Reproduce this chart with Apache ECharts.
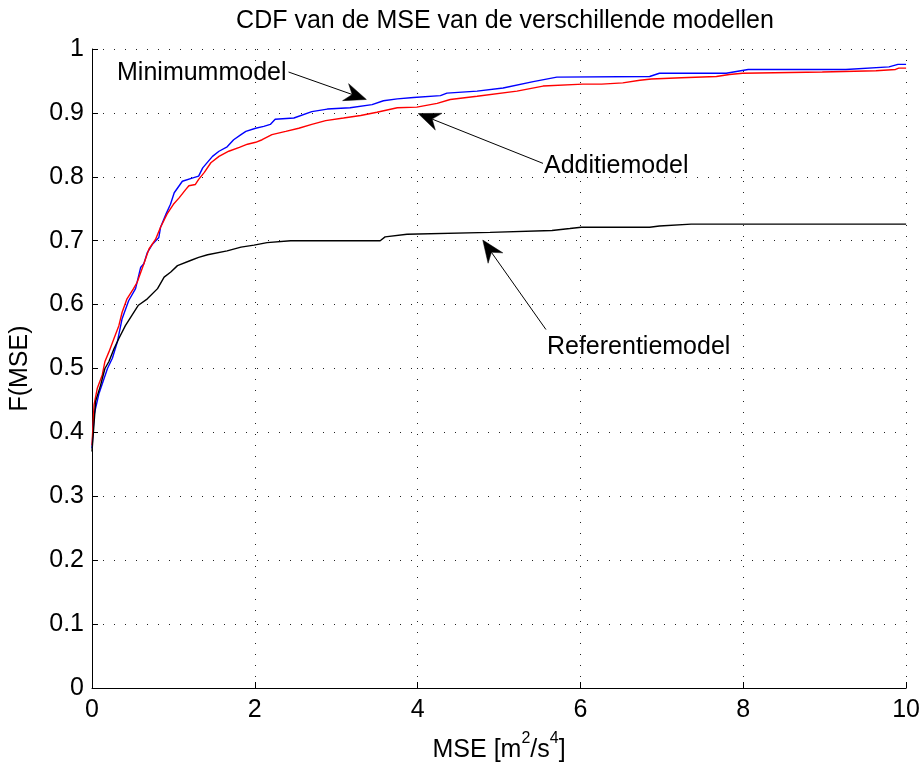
<!DOCTYPE html>
<html><head><meta charset="utf-8">
<script src="https://cdn.jsdelivr.net/npm/echarts@6/dist/echarts.min.js"></script>
<style>html,body{margin:0;padding:0;background:#fff}#c{width:923px;height:768px}</style>
</head><body><div id="c"></div>
<script>
const FONT = "'Liberation Sans', Arial, Helvetica, sans-serif";
const FS = 25;
const titleText = 'CDF van de MSE van de verschillende modellen';
const xTicks = [0, 2, 4, 6, 8, 10];
const yTicks = [0, 0.1, 0.2, 0.3, 0.4, 0.5, 0.6, 0.7, 0.8, 0.9, 1];

const minimumModel = [[0,0.375],[0.025,0.427],[0.086,0.461],[0.19,0.50],[0.25,0.516],[0.31,0.541],[0.37,0.578],[0.45,0.606],[0.535,0.625],[0.597,0.658],[0.637,0.664],[0.678,0.681],[0.739,0.694],[0.821,0.705],[0.842,0.721],[0.91,0.742],[0.964,0.757],[1.01,0.775],[1.11,0.793],[1.23,0.798],[1.31,0.801],[1.36,0.814],[1.48,0.832],[1.56,0.840],[1.66,0.847],[1.74,0.858],[1.83,0.866],[1.89,0.871],[2.01,0.876],[2.11,0.879],[2.19,0.882],[2.25,0.890],[2.48,0.892],[2.7,0.902],[2.89,0.906],[3.17,0.908],[3.44,0.913],[3.58,0.919],[3.75,0.922],[3.95,0.924],[4.28,0.927],[4.36,0.931],[4.73,0.934],[5.05,0.939],[5.42,0.949],[5.71,0.956],[6.85,0.957],[6.97,0.962],[7.79,0.962],[7.97,0.966],[8.06,0.968],[9.26,0.968],[9.28,0.971],[9.79,0.972],[9.9,0.976],[10,0.976]];

const additieModel = [[0,0.38],[0.025,0.443],[0.065,0.469],[0.126,0.49],[0.159,0.511],[0.208,0.526],[0.27,0.547],[0.33,0.567],[0.37,0.588],[0.43,0.609],[0.51,0.625],[0.555,0.635],[0.637,0.664],[0.70,0.687],[0.78,0.702],[0.842,0.721],[0.923,0.742],[1.0,0.757],[1.07,0.767],[1.15,0.780],[1.19,0.786],[1.27,0.788],[1.31,0.796],[1.38,0.807],[1.46,0.822],[1.56,0.832],[1.68,0.840],[1.81,0.846],[1.91,0.851],[2.01,0.854],[2.09,0.858],[2.21,0.866],[2.38,0.871],[2.54,0.876],[2.7,0.882],[2.87,0.888],[3.09,0.892],[3.3,0.896],[3.5,0.901],[3.75,0.908],[3.99,0.909],[4.24,0.915],[4.4,0.921],[4.73,0.926],[5.22,0.934],[5.54,0.942],[6.03,0.945],[6.26,0.945],[6.52,0.947],[6.73,0.951],[6.87,0.953],[7.24,0.955],[7.67,0.957],[7.83,0.96],[7.99,0.962],[8.97,0.964],[9.63,0.966],[9.87,0.968],[9.91,0.970],[10,0.970]];

const referentieModel = [[0,0.37],[0.045,0.449],[0.106,0.474],[0.159,0.50],[0.208,0.511],[0.27,0.531],[0.33,0.547],[0.41,0.567],[0.49,0.583],[0.57,0.599],[0.68,0.609],[0.805,0.625],[0.886,0.643],[0.968,0.651],[1.05,0.661],[1.21,0.669],[1.31,0.674],[1.42,0.678],[1.66,0.684],[1.83,0.690],[1.99,0.693],[2.15,0.697],[2.44,0.700],[3.54,0.700],[3.6,0.706],[3.87,0.710],[4.89,0.713],[5.65,0.716],[5.87,0.719],[6.01,0.721],[6.85,0.721],[6.97,0.723],[7.36,0.726],[10,0.726]];

// annotations: label, text anchor (data), arrow tip (data)
const annotations = [
  { text: 'Minimummodel', from: [2.414, 0.964], to: [3.37, 0.921], align: 'right', vAlign: 'middle', dx: -2, dy: 1 },
  { text: 'Additiemodel', from: [5.54, 0.821], to: [4.007, 0.899], align: 'left', vAlign: 'middle', dx: 1, dy: 3 },
  { text: 'Referentiemodel', from: [5.576, 0.561], to: [4.80, 0.701], align: 'left', vAlign: 'top', dx: 1, dy: 5 }
];

const chart = echarts.init(document.getElementById('c'), null, { renderer: 'canvas' });
const lineSeries = (name, data, color) => ({
  name, type: 'line', data, showSymbol: false, symbol: 'none',
  lineStyle: { color, width: 1.4 }, itemStyle: { color }, animation: false, z: 3
});

chart.setOption({
  animation: false,
  backgroundColor: '#fff',
  textStyle: { fontFamily: FONT },
  title: { text: titleText, left: 500, textAlign: 'center', top: 4,
    textStyle: { fontFamily: FONT, fontSize: FS, fontWeight: 'normal', color: '#000' } },
  grid: { left: 91, right: 16, top: 49, bottom: 77, containLabel: false },
  xAxis: {
    type: 'value', min: xTicks[0], max: xTicks[xTicks.length - 1], interval: 2,
    name: '{b|MSE [m}{sup|2}{b|/s}{sup|4}{b|]}', nameLocation: 'middle', nameGap: 43,
    nameTextStyle: { fontFamily: FONT, fontSize: FS, color: '#000',
      rich: {
        b: { fontFamily: FONT, fontSize: FS, color: '#000', lineHeight: 32, verticalAlign: 'bottom' },
        sup: { fontFamily: FONT, fontSize: 16, color: '#000', lineHeight: 16, verticalAlign: 'top' }
      } },
    axisLine: { show: true, lineStyle: { color: '#000', width: 1 } },
    axisTick: { show: true, inside: true, length: 6, lineStyle: { color: '#000' } },
    axisLabel: { fontFamily: FONT, fontSize: FS, color: '#000', margin: 10 },
    splitLine: { show: true, lineStyle: { color: '#222', width: 1, type: [1, 10] } }
  },
  yAxis: {
    type: 'value', min: yTicks[0], max: yTicks[yTicks.length - 1], interval: 0.1,
    name: 'F(MSE)', nameLocation: 'middle', nameGap: 59, nameRotate: 90,
    nameTextStyle: { fontFamily: FONT, fontSize: FS, color: '#000' },
    axisLine: { show: true, lineStyle: { color: '#000', width: 1 } },
    axisTick: { show: true, inside: true, length: 6, lineStyle: { color: '#000' } },
    axisLabel: { fontFamily: FONT, fontSize: FS, color: '#000', margin: 8,
      formatter: v => String(Math.round(v * 10) / 10) },
    splitLine: { show: true, lineStyle: { color: '#222', width: 1, type: [1, 10] } }
  },
  series: [
    lineSeries('Minimummodel', minimumModel, '#0000ff'),
    lineSeries('Additiemodel', additieModel, '#ff0000'),
    lineSeries('Referentiemodel', referentieModel, '#000000')
  ]
});

// arrows and labels, positioned through the chart's own coordinate system
const graphics = [];
annotations.forEach(a => {
  const s = chart.convertToPixel({ gridIndex: 0 }, a.from);
  const t = chart.convertToPixel({ gridIndex: 0 }, a.to);
  const dxv = t[0] - s[0], dyv = t[1] - s[1];
  const len = Math.hypot(dxv, dyv);
  const ux = dxv / len, uy = dyv / len;
  const nx = -uy, ny = ux;
  const L = 22, W = 9, N = 15;
  const back = [t[0] - ux * L, t[1] - uy * L];
  const notch = [t[0] - ux * N, t[1] - uy * N];
  graphics.push({ type: 'line', silent: true, z: 10,
    shape: { x1: s[0], y1: s[1], x2: notch[0], y2: notch[1] },
    style: { stroke: '#000', lineWidth: 1 } });
  graphics.push({ type: 'polygon', silent: true, z: 10,
    shape: { points: [t, [back[0] + nx * W, back[1] + ny * W], notch, [back[0] - nx * W, back[1] - ny * W]] },
    style: { fill: '#000', stroke: '#000', lineWidth: 0.5 } });
  graphics.push({ type: 'text', silent: true, z: 11,
    x: s[0] + a.dx, y: s[1] + a.dy,
    style: { text: a.text, font: FS + 'px ' + FONT, fill: '#000', align: a.align, verticalAlign: a.vAlign } });
});
chart.setOption({ graphic: graphics });
</script></body></html>
